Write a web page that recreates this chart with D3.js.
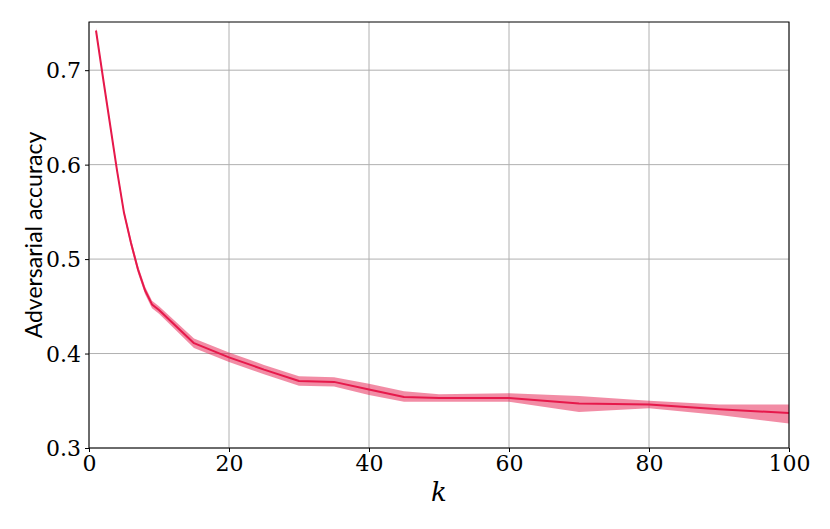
<!DOCTYPE html>
<html lang="en">
  <head>
    <meta charset="UTF-8" />
    <title>Adversarial accuracy vs k</title>
    <script src="https://d3js.org/d3.v7.min.js"></script>
    <style>
      body {
        margin: 0;
        background: white;
      }
    </style>
  </head>
  <body>
    <svg id="chart" width="830" height="529"></svg>

    <script>
      // values
      const kValues = [1, 2, 3, 4, 5, 6, 7, 8, 9, 10, 15, 20, 25, 30, 35, 40, 45, 50, 60, 70, 80, 90, 100];
      const meanAcc = [0.742, 0.692, 0.643, 0.594, 0.549, 0.517, 0.489, 0.467, 0.452, 0.446, 0.411, 0.396, 0.383, 0.371, 0.370, 0.362, 0.354, 0.353, 0.353, 0.347, 0.346, 0.341, 0.337];
      const lowerAcc = [0.740, 0.690, 0.641, 0.592, 0.546, 0.513, 0.485, 0.463, 0.448, 0.442, 0.406, 0.391, 0.378, 0.366, 0.365, 0.356, 0.349, 0.349, 0.349, 0.338, 0.342, 0.335, 0.326];
      const upperAcc = [0.745, 0.695, 0.646, 0.597, 0.552, 0.521, 0.493, 0.471, 0.456, 0.450, 0.416, 0.401, 0.388, 0.376, 0.375, 0.368, 0.360, 0.357, 0.358, 0.355, 0.350, 0.346, 0.346];
      const xTicks = [0, 20, 40, 60, 80, 100];
      const yTicks = [0.3, 0.4, 0.5, 0.6, 0.7];

      const color = "#e6194b";
      const serif = "DejaVu Serif";
      const margin = { top: 22, right: 41, bottom: 81, left: 89 };
      const svg = d3.select("#chart");
      const width = +svg.attr("width") - margin.left - margin.right;
      const height = +svg.attr("height") - margin.top - margin.bottom;

      const data = kValues.map((k, i) => ({
        k,
        mean: meanAcc[i],
        lo: lowerAcc[i],
        hi: upperAcc[i],
      }));

      const x = d3.scaleLinear().domain([0, 100]).range([0, width]);
      const y = d3.scaleLinear().domain([0.3, 0.751]).range([height, 0]);

      const g = svg
        .append("g")
        .attr("transform", `translate(${margin.left},${margin.top})`);

      // grid
      g.append("g")
        .selectAll("line")
        .data(xTicks)
        .enter()
        .append("line")
        .attr("x1", (d) => x(d))
        .attr("x2", (d) => x(d))
        .attr("y1", 0)
        .attr("y2", height)
        .attr("stroke", "#b0b0b0")
        .attr("stroke-width", 1);

      g.append("g")
        .selectAll("line")
        .data(yTicks)
        .enter()
        .append("line")
        .attr("x1", 0)
        .attr("x2", width)
        .attr("y1", (d) => y(d))
        .attr("y2", (d) => y(d))
        .attr("stroke", "#b0b0b0")
        .attr("stroke-width", 1);

      // band
      g.append("path")
        .datum(data)
        .attr("fill", color)
        .attr("fill-opacity", 0.5)
        .attr(
          "d",
          d3
            .area()
            .x((d) => x(d.k))
            .y0((d) => y(d.lo))
            .y1((d) => y(d.hi))
        );

      // mean line
      g.append("path")
        .datum(data)
        .attr("fill", "none")
        .attr("stroke", color)
        .attr("stroke-width", 2)
        .attr("stroke-linejoin", "round")
        .attr(
          "d",
          d3
            .line()
            .x((d) => x(d.k))
            .y((d) => y(d.mean))
        );

      // axes
      const xAxis = g
        .append("g")
        .attr("transform", `translate(0,${height})`)
        .call(d3.axisBottom(x).tickValues(xTicks).tickSize(4).tickPadding(3));

      const yAxis = g
        .append("g")
        .call(
          d3
            .axisLeft(y)
            .tickValues(yTicks)
            .tickFormat(d3.format(".1f"))
            .tickSize(4)
            .tickPadding(4)
        );

      [xAxis, yAxis].forEach((a) => {
        a.attr("font-family", null).attr("font-size", null);
        a.select(".domain").remove();
        a.selectAll(".tick line").attr("stroke", "#000");
        a.selectAll(".tick text")
          .attr("fill", "#000")
          .style("font-family", serif)
          .style("font-size", "22px");
      });
      yAxis.selectAll(".tick text").attr("dy", "0.35em");

      // frame
      g.append("rect")
        .attr("width", width)
        .attr("height", height)
        .attr("fill", "none")
        .attr("stroke", "#000")
        .attr("stroke-width", 1);

      // labels
      svg
        .append("text")
        .attr("x", margin.left + width / 2)
        .attr("y", 501)
        .attr("text-anchor", "middle")
        .style("font-family", serif)
        .style("font-style", "italic")
        .style("font-size", "26px")
        .text("k");

      svg
        .append("text")
        .attr("transform", `translate(42,${margin.top + height / 2}) rotate(-90)`)
        .attr("text-anchor", "middle")
        .style("font-family", "Lato, 'Open Sans', sans-serif")
        .style("font-size", "23px")
        .text("Adversarial accuracy");
    </script>
  </body>
</html>
